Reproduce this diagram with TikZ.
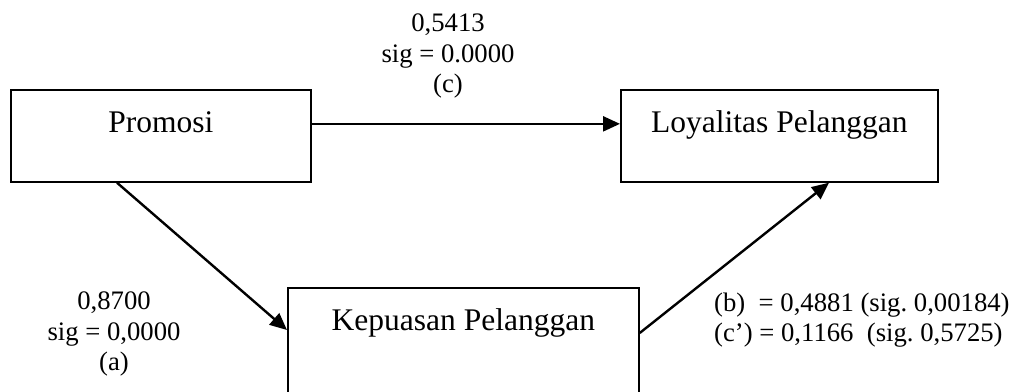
\documentclass[tikz,border=0pt]{standalone}
\usepackage{fontspec}
\setmainfont{Liberation Serif}
\usetikzlibrary{arrows.meta}
\frenchspacing
\begin{document}
\begin{tikzpicture}[x=1pt,y=-1pt,
  varbox/.style={draw, line width=1.7pt, inner sep=0pt, text height=42.5pt,
    font=\fontsize{31.5}{36}\selectfont},
  path/.style={line width=2.4pt, -{Triangle[length=17pt,width=15pt]}},
  coef/.style={font=\fontsize{26.7}{30.5}\selectfont, inner sep=0pt}]
\clip (0,0) rectangle (1014,391);
\fill[white] (0,0) rectangle (1014,391);
% the three variables
\node[varbox, anchor=north west, minimum width=300pt, text depth=49.5pt] (promosi) at (10,89) {Promosi};
\node[varbox, anchor=north west, minimum width=317pt, text depth=49.5pt] (loy) at (620,89) {Loyalitas Pelanggan};
\node[varbox, anchor=north west, minimum width=351pt, text depth=90pt] (kep) at (287,287) {Kepuasan Pelanggan};
% paths
\draw[path] ([yshift=12pt]promosi.east) -- ([yshift=12pt]loy.west);
\draw[path] ([xshift=107pt]promosi.south west) -- ([yshift=-43pt]kep.north west);
\draw[path] ([yshift=-46pt]kep.north east) -- ([xshift=209pt]loy.south west);
% coefficients
\node[coef, align=center] (lc) at (448,56) {0,5413\\sig = 0.0000\\(c)};
\node[coef, align=center] (la) at (114,334) {0,8700\\sig = 0,0000\\(a)};
\node[coef, align=left, anchor=west] (lb) at (714,320) {(b)\ \ = 0,4881 (sig. 0,00184)\\(c’) = 0,1166\ \ (sig. 0,5725)};
\end{tikzpicture}
\end{document}
